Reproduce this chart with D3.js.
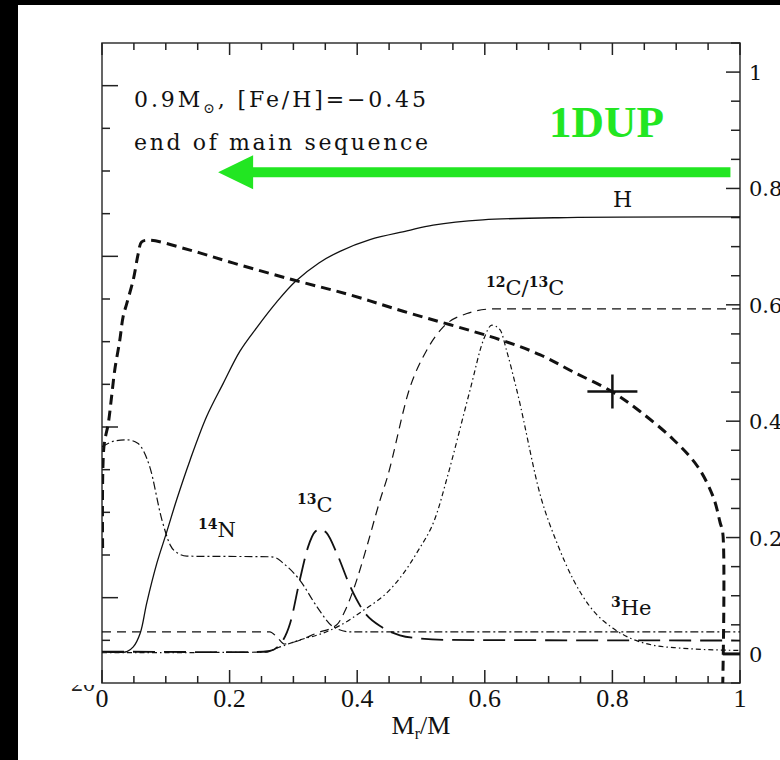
<!DOCTYPE html>
<html><head><meta charset="utf-8">
<script src="https://cdn.jsdelivr.net/npm/d3@7"></script>
<style>html,body{margin:0;padding:0;background:#fff;overflow:hidden} svg{display:block}</style>
</head><body><svg id="c" width="780" height="760"></svg>
<script>
// ---------- data ----------
const massMajorTicks = [0, 0.2, 0.4, 0.6, 0.8, 1];
const massTickLabels = ["0", "0.2", "0.4", "0.6", "0.8", "1"];
const massMinorTicks = [0.05,0.1,0.15,0.25,0.3,0.35,0.45,0.5,0.55,0.65,0.7,0.75,0.85,0.9,0.95];
const rightMajorTicks = [0, 0.2, 0.4, 0.6, 0.8, 1];
const rightTickLabels = ["0", "0.2", "0.4", "0.6", "0.8", "1"];
const rightMinorTicks = [-0.05,0.05,0.1,0.15,0.25,0.3,0.35,0.45,0.5,0.55,0.65,0.7,0.75,0.85,0.9,0.95,1.05];
const leftTicks = [1,2,3,4,5,6,7,8,9,10,11,12,13,14];
const leftMajorTicks = [2, 6, 10, 14];

// abundance profiles: [Mr/M, value on right axis]
const hydrogen = [[0,0.004],[0.039,0.004],[0.049,0.012],[0.060,0.036],[0.070,0.087],[0.086,0.156],[0.101,0.208],[0.117,0.265],[0.138,0.333],[0.164,0.408],[0.190,0.465],[0.216,0.520],[0.242,0.560],[0.274,0.605],[0.303,0.640],[0.340,0.672],[0.373,0.692],[0.420,0.712],[0.478,0.727],[0.519,0.737],[0.597,0.746],[0.729,0.750],[1.0,0.751]];
const carbonRatio = [[0,0.038],[0.263,0.038],[0.275,0.028],[0.286,0.017],[0.30,0.020],[0.337,0.036],[0.368,0.050],[0.38,0.072],[0.394,0.110],[0.415,0.184],[0.436,0.265],[0.446,0.299],[0.483,0.459],[0.509,0.522],[0.535,0.562],[0.572,0.585],[0.613,0.593],[1.0,0.593]];
const carbon13 = [[0,0.004],[0.232,0.003],[0.263,0.005],[0.284,0.024],[0.295,0.053],[0.310,0.127],[0.323,0.184],[0.334,0.210],[0.342,0.214],[0.352,0.208],[0.368,0.173],[0.389,0.116],[0.409,0.075],[0.440,0.045],[0.467,0.032],[0.493,0.027],[0.545,0.024],[1.0,0.023]];
const nitrogen14 = [[0,0.356],[0.020,0.366],[0.039,0.368],[0.056,0.362],[0.075,0.321],[0.094,0.230],[0.107,0.187],[0.119,0.173],[0.133,0.168],[0.263,0.167],[0.273,0.165],[0.284,0.156],[0.310,0.127],[0.337,0.081],[0.362,0.047],[0.389,0.038],[1.0,0.038]];
const helium3 = [[0,0.002],[0.255,0.003],[0.279,0.012],[0.310,0.024],[0.342,0.034],[0.368,0.046],[0.410,0.075],[0.451,0.110],[0.493,0.173],[0.525,0.242],[0.540,0.299],[0.577,0.454],[0.598,0.540],[0.611,0.565],[0.624,0.557],[0.634,0.522],[0.650,0.454],[0.689,0.265],[0.713,0.191],[0.739,0.127],[0.765,0.081],[0.801,0.044],[0.828,0.027],[0.864,0.015],[0.906,0.010],[0.958,0.007],[1.0,0.006]];
const boldProfile = [[0.001,0.182],[0.003,0.356],[0.010,0.397],[0.015,0.442],[0.020,0.488],[0.028,0.540],[0.033,0.579],[0.039,0.603],[0.049,0.643],[0.057,0.689],[0.062,0.708],[0.075,0.711],[0.138,0.694],[0.205,0.672],[0.299,0.643],[0.389,0.617],[0.472,0.589],[0.624,0.540],[0.687,0.514],[0.738,0.485],[0.799,0.451],[0.843,0.417],[0.895,0.369],[0.933,0.323],[0.958,0.270],[0.969,0.225],[0.973,0.208],[0.973,-0.05]];
const boldStub = [[0.973,0.0],[1.0,0.0]];
const crossPoint = [0.8, 0.451];
const arrowStart = [0.985, 0.828];
const arrowEnd = [0.182, 0.828];

// ---------- layout ----------
const svg = d3.select("#c");
const L = 102, R = 740, T = 43, B = 683;
const x = d3.scaleLinear().domain([0, 1]).range([L, R]);
const y = d3.scaleLinear().domain([-0.05, 1.05]).range([B, T]);
const yl = d3.scaleLinear().domain([0, 15]).range([B, T]);
const serif = "'DejaVu Serif', serif";
const roman = "'Liberation Serif', serif";
const green = "#22e622";

svg.append("rect").attr("width", 780).attr("height", 760).attr("fill", "#fff");
svg.append("rect").attr("x", 0).attr("y", 0).attr("width", 780).attr("height", 5).attr("fill", "#000");
svg.append("rect").attr("x", 0).attr("y", 0).attr("width", 18).attr("height", 760).attr("fill", "#000");

// clipped remnant of a left-axis label
svg.append("clipPath").attr("id", "remn").append("rect").attr("x", 40).attr("y", 685).attr("width", 60).attr("height", 20);
svg.append("text").attr("clip-path", "url(#remn)").attr("x", 95).attr("y", 691).attr("text-anchor", "end")
  .attr("font-family", roman).attr("font-size", 24).attr("fill", "#222").text("20");

const g = svg.append("g");
const tickCol = "#222";
g.append("rect").attr("x", L).attr("y", T).attr("width", R - L).attr("height", B - T)
  .attr("fill", "none").attr("stroke", "#333").attr("stroke-width", 1.5);

function tickLine(x1, y1, x2, y2, w) {
  g.append("line").attr("x1", x1).attr("y1", y1).attr("x2", x2).attr("y2", y2)
    .attr("stroke", tickCol).attr("stroke-width", w || 1.5);
}
massMajorTicks.forEach(v => { tickLine(x(v), T, x(v), T + 12); tickLine(x(v), B, x(v), B - 13); });
massMinorTicks.forEach(v => { tickLine(x(v), T, x(v), T + 7); tickLine(x(v), B, x(v), B - 7); });
rightMajorTicks.forEach(v => tickLine(R, y(v), R - 14, y(v)));
rightMinorTicks.forEach(v => tickLine(R, y(v), R - 9, y(v)));
leftTicks.forEach(v => tickLine(L, yl(v), L + (leftMajorTicks.includes(v) ? 16 : 8), yl(v)));

// tick labels
g.selectAll(".xl").data(massMajorTicks).enter().append("text")
  .attr("x", d => x(d)).attr("y", 707).attr("text-anchor", "middle")
  .attr("font-family", roman).attr("font-size", 26).attr("fill", "#111")
  .text((d, i) => massTickLabels[i]);
g.selectAll(".yr").data(rightMajorTicks).enter().append("text")
  .attr("x", 749).attr("y", d => y(d) + 8).attr("text-anchor", "start")
  .attr("font-family", serif).attr("font-size", 21).attr("fill", "#111")
  .text((d, i) => rightTickLabels[i]);

// axis title M_r/M
const xt = g.append("text").attr("x", x(0.5)).attr("y", 734).attr("text-anchor", "middle")
  .attr("font-family", roman).attr("font-size", 26).attr("fill", "#111");
xt.append("tspan").text("M");
xt.append("tspan").attr("font-size", 16).attr("dy", 5).text("r");
xt.append("tspan").attr("dy", -5).text("/M");

// curves
const line = d3.line().x(d => x(d[0])).y(d => y(d[1])).curve(d3.curveMonotoneX);
const lineCR = d3.line().x(d => x(d[0])).y(d => y(d[1])).curve(d3.curveCatmullRom.alpha(0.5));
svg.append("clipPath").attr("id", "plot").append("rect")
  .attr("x", L).attr("y", T).attr("width", R - L).attr("height", B - T);
const pg = svg.append("g").attr("clip-path", "url(#plot)");
function draw(data, gen, w, dash) {
  pg.append("path").attr("d", gen(data)).attr("fill", "none").attr("stroke", "#111")
    .attr("stroke-width", w).attr("stroke-dasharray", dash);
}
draw(hydrogen, lineCR, 1.3, null);
draw(carbonRatio, line, 1.2, "9 6");
draw(carbon13, line, 1.8, "22 9");
draw(nitrogen14, line, 1.2, "8 3 2 3");
draw(helium3, line, 1.2, "5 3 1.5 3");
draw(boldProfile, lineCR, 3, "10 6");
draw(boldStub, line, 3, null);

// cross marker
pg.append("line").attr("x1", x(crossPoint[0]) - 25).attr("x2", x(crossPoint[0]) + 25)
  .attr("y1", y(crossPoint[1])).attr("y2", y(crossPoint[1])).attr("stroke", "#111").attr("stroke-width", 2.5);
pg.append("line").attr("x1", x(crossPoint[0])).attr("x2", x(crossPoint[0]))
  .attr("y1", y(crossPoint[1]) - 17).attr("y2", y(crossPoint[1]) + 17).attr("stroke", "#111").attr("stroke-width", 2.5);

// green arrow
const ax0 = x(arrowStart[0]), ax1 = x(arrowEnd[0]), ay = y(arrowStart[1]);
svg.append("line").attr("x1", ax0).attr("x2", ax1 + 30).attr("y1", ay).attr("y2", ay)
  .attr("stroke", green).attr("stroke-width", 10);
svg.append("path").attr("d", `M${ax1},${ay} L${ax1 + 35},${ay - 17} L${ax1 + 35},${ay + 17} Z`).attr("fill", green);
svg.append("text").attr("x", 549).attr("y", 137).attr("font-family", roman).attr("font-weight", "bold")
  .attr("font-size", 45).attr("fill", green).text("1DUP");

// annotations
function fitWidth(sel, w) {
  const cur = sel.node().getComputedTextLength();
  const n = sel.text().length;
  sel.attr("letter-spacing", Math.max(0, (w - cur) / Math.max(1, n - 1)));
}
const t1 = svg.append("text").attr("x", 134).attr("y", 107).attr("font-family", serif).attr("font-size", 22).attr("fill", "#111");
t1.append("tspan").text("0.9M");
t1.append("tspan").attr("font-size", 14).attr("dy", 6).text("⊙");
t1.append("tspan").attr("dy", -6).text(", [Fe/H]=−0.45");
fitWidth(t1, 292);
const t2 = svg.append("text").attr("x", 134).attr("y", 150).attr("font-family", serif).attr("font-size", 22).attr("fill", "#111")
  .text("end of main sequence");
fitWidth(t2, 294);

function label(xp, yp, parts) {
  const t = svg.append("text").attr("x", xp).attr("y", yp).attr("font-family", serif).attr("font-size", 21).attr("fill", "#111");
  parts.forEach(p => {
    const s = t.append("tspan").text(p[0]);
    if (p[1]) s.attr("font-size", 14).attr("font-weight", "bold").attr("dy", -8);
    else if (p[2]) s.attr("dy", 8);
  });
  return t;
}
svg.append("text").attr("x", 613).attr("y", 207).attr("font-family", serif).attr("font-size", 22).attr("fill", "#111").text("H");
label(486, 295, [["12", 1], ["C/", 0, 1], ["13", 1], ["C", 0, 1]]);
label(198, 537, [["14", 1], ["N", 0, 1]]);
label(297, 512, [["13", 1], ["C", 0, 1]]);
label(611, 615, [["3", 1], ["He", 0, 1]]);
</script></body></html>
